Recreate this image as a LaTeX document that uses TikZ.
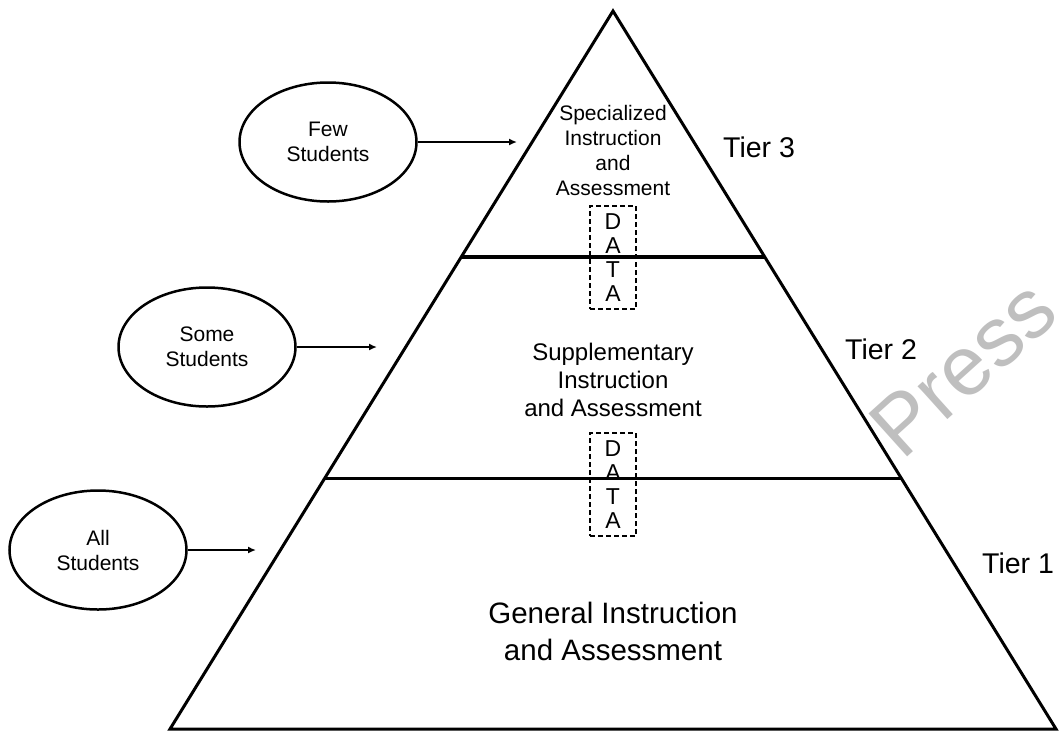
\documentclass[tikz,border=0pt]{standalone}
\usepackage{fontspec}
\setmainfont{Liberation Sans}
\usepackage{tikz}
\usetikzlibrary{arrows.meta,shapes.geometric,calc}

\begin{document}
\begin{tikzpicture}[x=1pt,y=-1pt,>={Latex[length=8pt,width=7pt]},line join=miter]
    \tikzstyle{group}=[ellipse,draw=black,line width=2.5pt,minimum width=177pt,minimum height=119pt,inner sep=0pt,align=center,font=\fontsize{21}{25}\selectfont]
    \tikzstyle{databox}=[draw=black,dash pattern=on 5pt off 3pt,line width=1.4pt,minimum width=46pt,minimum height=103pt,inner sep=0pt,align=center,font=\fontsize{23}{24}\selectfont]
    \tikzstyle{tier}=[anchor=west,inner sep=0pt,font=\fontsize{28.5}{30}\selectfont]
    \tikzstyle{level}=[inner sep=0pt,align=center]
    \useasboundingbox (0,0) rectangle (1059,732);
    % watermark behind everything
    \node[text=gray!50,rotate=42,inner sep=0pt,font=\fontsize{84}{84}\selectfont] (press) at (963,368) {Press};
    % pyramid and its two dividers
    \coordinate (top) at (613,11);
    \coordinate (bl)  at (170,729);
    \coordinate (br)  at (1056,729);
    \draw[line width=3pt] (top) -- (br) -- (bl) -- cycle;
    \coordinate (l1) at ($(top)!0.3426!(bl)$);
    \coordinate (r1) at ($(top)!0.3426!(br)$);
    \coordinate (l2) at ($(top)!0.6504!(bl)$);
    \coordinate (r2) at ($(top)!0.6504!(br)$);
    \draw[line width=3pt] (l1) -- (r1) (l2) -- (r2);
    % level texts
    \node[level,font=\fontsize{21}{25}\selectfont]   (spec) at (613,150.5) {Specialized\\Instruction\\and\\Assessment};
    \node[level,font=\fontsize{24}{28}\selectfont]   (supp) at (613,380)   {Supplementary\\Instruction\\and Assessment};
    \node[level,font=\fontsize{29.5}{37}\selectfont] (gen)  at (613,631)   {General Instruction\\and Assessment};
    \node[databox] (data1) at (613,257.5) {D\\A\\T\\A};
    \node[databox] (data2) at (613,484.5) {D\\A\\T\\A};
    \node[tier] (t3) at (723,147) {Tier 3};
    \node[tier] (t2) at (845,349) {Tier 2};
    \node[tier] (t1) at (982,563) {Tier 1};
    % student groups
    \node[group] (few)  at (328,142) {Few\\Students};
    \node[group] (some) at (207,347) {Some\\Students};
    \node[group] (all)  at (98,550)  {All\\Students};
    \coordinate (fewtip)  at (517,142);
    \coordinate (sometip) at (377,347);
    \coordinate (alltip)  at (256,550);
    \path[->,line width=2pt] (few)  edge (fewtip)
                             (some) edge (sometip)
                             (all)  edge (alltip);
\end{tikzpicture}
\end{document}
